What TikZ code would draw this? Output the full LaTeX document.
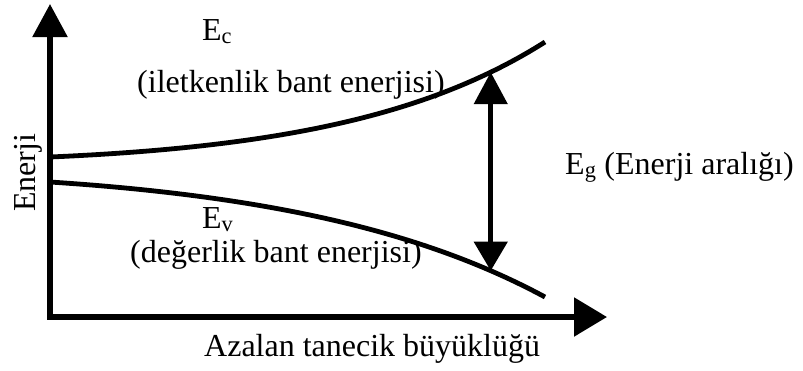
\documentclass[tikz,border=0pt]{standalone}
\usepackage{fontspec}
\setmainfont{Liberation Serif}
\usetikzlibrary{arrows.meta}
\begin{document}
\begin{tikzpicture}[x=1pt,y=-1pt,
  axes/.style={line width=5.5pt, line join=miter,
    {Triangle[length=33pt,width=34pt]}-{Triangle[length=33pt,width=38pt]}},
  band/.style={line width=4.8pt},
  gaparrow/.style={line width=4.5pt,
    {Triangle[length=32pt,width=33pt]}-{Triangle[length=29pt,width=33pt]}},
  lbl/.style={font=\fontsize{32}{38}\selectfont, inner sep=0pt}]
\useasboundingbox (0,0) rectangle (803,370);

% axes
\coordinate (ytip) at (50,4);
\coordinate (origin) at (50,317);
\coordinate (xtip) at (607,317);
\draw[axes] (ytip) -- (origin) -- (xtip);

% conduction and valence band edges
\draw[band] (50,157) .. controls (280,147) and (430,115) .. (545,42)
  coordinate[pos=0.85] (ctop);
\draw[band] (50,182) .. controls (280,197) and (430,235) .. (545,297)
  coordinate[pos=0.85] (vbot);

% band gap
\draw[gaparrow] (ctop) -- (vbot);

% labels
\node[lbl, anchor=base west] (ec) at (202,40) {E\textsubscript{c}};
\node[lbl, anchor=base west] (ecname) at (137,92) {(iletkenlik bant enerjisi)};
\node[lbl, anchor=base west] (ev) at (202,228) {E\textsubscript{v}};
\node[lbl, anchor=base west] (evname) at (130,262) {(değerlik bant enerjisi)};
\node[lbl, anchor=base west] (eg) at (565,174) {E\textsubscript{g} (Enerji aralığı)};
\node[lbl, anchor=base west, rotate=90] (ylab) at (35,212) {Enerji};
\node[lbl, anchor=base west] (xlab) at (204,356) {Azalan tanecik büyüklüğü};
\end{tikzpicture}
\end{document}
